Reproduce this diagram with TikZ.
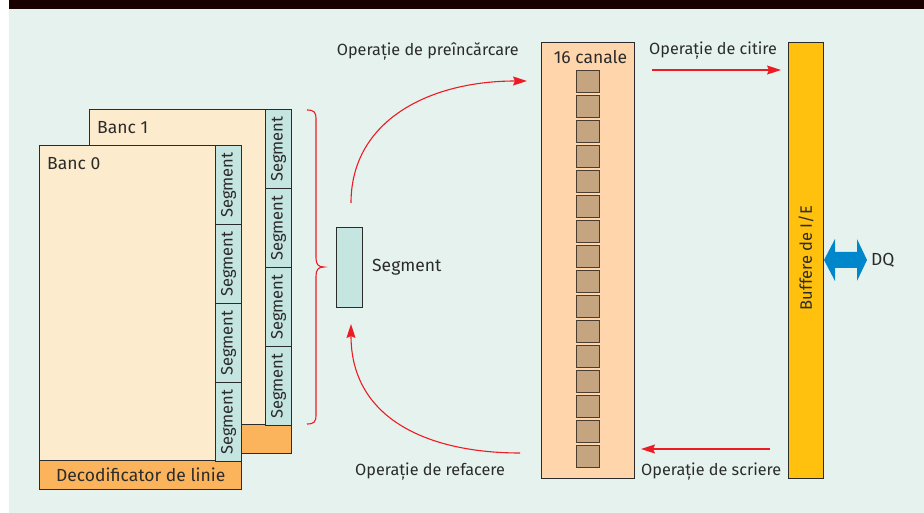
\documentclass[tikz,border=0pt]{standalone}
\usepackage{fontspec}
\setmainfont{Fira Sans}
\usetikzlibrary{arrows.meta}
\definecolor{bg}{HTML}{E5F2EE}
\definecolor{peach}{HTML}{FDEBCD}
\definecolor{segc}{HTML}{C5E5E0}
\definecolor{orng}{HTML}{FBB45C}
\definecolor{chan}{HTML}{FFD6AC}
\definecolor{sq}{HTML}{C4A57F}
\definecolor{sqb}{HTML}{4A3C30}
\definecolor{buf}{HTML}{FFC10E}
\definecolor{dq}{HTML}{0086CA}
\definecolor{redc}{HTML}{ED1C24}
\definecolor{ink}{HTML}{2B2B2B}
\tikzset{
  box/.style={draw=ink, line width=1.4pt, inner sep=0pt, anchor=north west},
  segbox/.style={box, fill=segc, minimum width=26pt, minimum height=79pt},
  seglabel/.style={rotate=90, font=\fontsize{16.5}{16.5}\selectfont, text=ink, inner sep=0pt},
  lbl/.style={font=\fontsize{17.5}{17.5}\selectfont, text=ink, inner sep=0pt},
  oplbl/.style={font=\fontsize{16.2}{16.2}\selectfont, text=ink, inner sep=0pt},
  chsq/.style={draw=sqb, line width=1pt, fill=sq, minimum width=23pt, minimum height=22pt, inner sep=0pt, anchor=north west},
  redarrow/.style={draw=redc, line width=1.1pt, -{Stealth[length=14pt,width=9pt,inset=2pt]}},
}
\begin{document}
\begin{tikzpicture}[x=1pt,y=-1pt]
\useasboundingbox (0,0) rectangle (924,513);
\fill[white] (0,0) rectangle (924,513);
\fill[bg] (9,9) rectangle (924,513);
\fill[black!90!red] (9,0) rectangle (924,9);

% Banc 1
\node[box, fill=orng, minimum width=202pt, minimum height=29pt] (dec1) at (89,424) {};
\node[box, fill=peach, minimum width=176pt, minimum height=315pt] (banc1) at (89,109) {};
\node[lbl, anchor=west] (banc1l) at (97,128) {Banc 1};
\foreach \i/\y in {1/109,2/188,3/267,4/346}{
  \node[segbox] (sa\i) at (265,\y) {};
  \node[seglabel] at (sa\i.center) {Segment};
}
% Banc 0
\node[box, fill=orng, minimum width=202pt, minimum height=29pt] (dec0) at (39,460) {};
\node[lbl] at (dec0.center) {Decodificator de linie};
\node[box, fill=peach, minimum width=176pt, minimum height=315pt] (banc0) at (39,145) {};
\node[lbl, anchor=west] (banc0l) at (47,164) {Banc 0};
\foreach \i/\y in {1/145,2/224,3/303,4/382}{
  \node[segbox] (sb\i) at (215,\y) {};
  \node[seglabel] at (sb\i.center) {Segment};
}

% brace
\draw[redc, line width=1.1pt] (307,110) .. controls (314,110) and (316,112) .. (316,119) -- (316,258)
  .. controls (316,264) and (318,267) .. (324,267) .. controls (318,267) and (316,270) .. (316,276)
  -- (316,415) .. controls (316,422) and (314,424) .. (307,424);

% single segment
\node[box, fill=segc, minimum width=26pt, minimum height=80pt] (seg) at (336,227) {};
\node[lbl, anchor=west] (segl) at (372,267) {Segment};

% channels
\node[box, fill=chan, minimum width=93pt, minimum height=436pt] (chan) at (541,42) {};
\node[lbl] (chanl) at (590.5,57) {16 canale};
\foreach \k in {0,...,15}{
  \node[chsq] (c\k) at (576,{70+25*\k}) {};
}

% buffer
\node[box, fill=buf, minimum width=35pt, minimum height=436pt] (buf) at (788,42) {};
\node[seglabel] (bufl) at (806,258) {Buffere de I/E};

% DQ
\fill[dq] (824,260) -- (835,239) -- (835,252) -- (857,252) -- (857,239) -- (867,260)
  -- (857,281) -- (857,268) -- (835,268) -- (835,281) -- cycle;
\node[lbl, anchor=west] (dql) at (871,260) {DQ};

% arrows
\coordinate (preS) at (351,203);
\coordinate (preE) at (527,81);
\draw[redarrow] (preS) .. controls (351,120) and (430,81) .. (preE);
\node[oplbl, anchor=east] (prel) at (519,51) {Operație de preîncărcare};

\coordinate (refS) at (520,453);
\coordinate (refE) at (351,324);
\draw[redarrow] (refS) .. controls (430,453) and (351,420) .. (refE);
\node[oplbl, anchor=west] (refl) at (355,472) {Operație de refacere};

\coordinate (citS) at (652,70);
\coordinate (citE) at (781,70);
\draw[redarrow] (citS) -- (citE);
\node[oplbl, anchor=west] (citl) at (649,51) {Operație de citire};

\coordinate (scrS) at (770,449);
\coordinate (scrE) at (641,449);
\draw[redarrow] (scrS) -- (scrE);
\node[oplbl, anchor=west] (scrl) at (641,472) {Operație de scriere};
\end{tikzpicture}
\end{document}
